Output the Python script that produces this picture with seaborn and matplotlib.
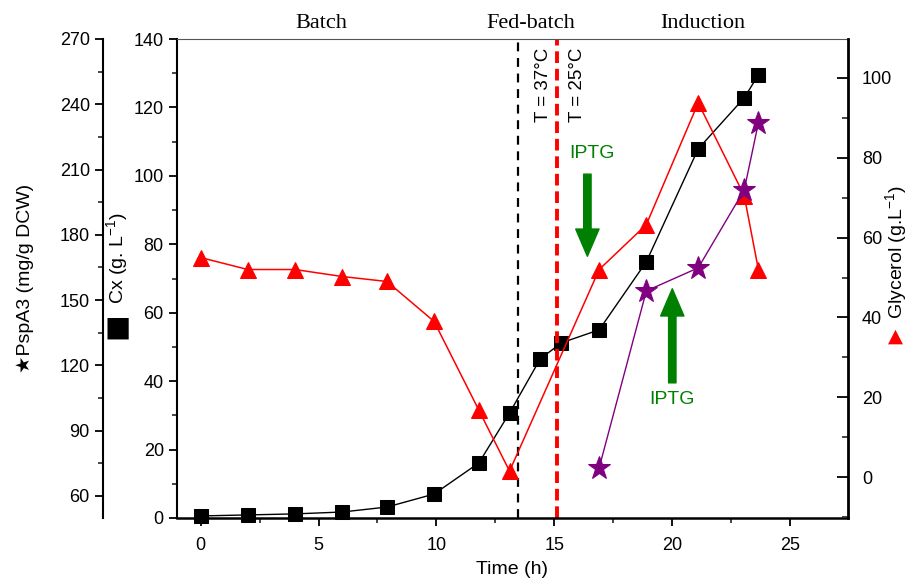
import numpy as np
import matplotlib
matplotlib.use("Agg")
import matplotlib.pyplot as plt
import matplotlib.transforms as mtransforms
from matplotlib.ticker import MultipleLocator
import seaborn as sns

# Biomass (Cx)
time_cx = [0, 2, 4, 6, 7.9, 9.9, 11.8, 13.1, 14.4, 15.3, 16.9, 18.9, 21.1, 23.05, 23.65]
cx = [0.6, 0.9, 1.2, 1.75, 3.2, 7.0, 16.1, 30.7, 46.5, 51.2, 55.0, 74.9, 107.9, 122.8, 129.5]

# Glycerol
time_gly = [0, 2, 4, 6, 7.9, 9.9, 11.8, 13.1, 16.9, 18.9, 21.1, 23.05, 23.65]
glycerol = [55.0, 52.0, 52.0, 50.25, 49.0, 39.0, 16.75, 1.5, 52.0, 63.25, 93.75, 70.5, 52.0]

# PspA3
time_psp = [16.9, 18.9, 21.1, 23.05, 23.65]
pspa3 = [72.9, 154.2, 164.8, 200.6, 231.4]

phases = ["Batch", "Fed-batch", "Induction"]
phase_x = [5.1, 14.0, 21.3]

sns.set_theme(style="ticks")
plt.rcParams["font.family"] = ["Liberation Sans", "DejaVu Sans"]
plt.rcParams["mathtext.fontset"] = "custom"
plt.rcParams["mathtext.rm"] = "Liberation Sans"
plt.rcParams["text.color"] = "black"
plt.rcParams["axes.labelcolor"] = "black"

fig = plt.figure(figsize=(9.18, 5.85), dpi=100)
ax = fig.add_axes([177 / 918, 1 - 518 / 585, 671 / 918, 479 / 585])
ax_g = ax.twinx()
ax_p = ax.twinx()

sns.lineplot(x=time_cx, y=cx, ax=ax, color="black", lw=1, marker="s",
             markersize=10, mec="black", clip_on=False)
sns.lineplot(x=time_gly, y=glycerol, ax=ax_g, color="red", lw=1.1, marker="^",
             markersize=11, mec="red", clip_on=False)
sns.lineplot(x=time_psp, y=pspa3, ax=ax_p, color="#800080", lw=1, marker="*",
             markersize=17, mec="#800080", clip_on=False)

ax.set_xlim(-1, 27.45)
ax.set_ylim(0, 140)
ax_g.set_ylim(-10.25, 109.75)
ax_p.set_ylim(49.8, 270)

# spines
for a in (ax, ax_g, ax_p):
    for s in a.spines.values():
        s.set_visible(False)
for s in ("left", "bottom", "top"):
    ax.spines[s].set_visible(True)
    ax.spines[s].set_color("black")
ax.spines["top"].set_linewidth(0.8)
ax.spines["top"].set_color("#555555")
ax.spines["left"].set_linewidth(1.5)
ax.spines["bottom"].set_linewidth(1.8)
ax_g.spines["right"].set_visible(True)
ax_g.spines["right"].set_linewidth(2)
ax_g.spines["right"].set_color("black")
ax_p.spines["left"].set_visible(True)
ax_p.spines["left"].set_linewidth(1.5)
ax_p.spines["left"].set_color("black")
ax_p.spines["left"].set_position(("axes", (103 - 177) / 671))
ax_p.yaxis.set_ticks_position("left")
ax_p.yaxis.set_label_position("left")

ax.xaxis.set_major_locator(MultipleLocator(5))
ax.xaxis.set_minor_locator(MultipleLocator(2.5))
ax.yaxis.set_major_locator(MultipleLocator(20))
ax.yaxis.set_minor_locator(MultipleLocator(10))
ax_g.set_yticks([0, 20, 40, 60, 80, 100])
ax_g.yaxis.set_minor_locator(MultipleLocator(10))
ax_p.set_yticks(np.arange(60, 271, 30))
ax_p.yaxis.set_minor_locator(MultipleLocator(15))

ax.tick_params(axis="both", which="major", direction="out", length=6, width=1.3,
               labelsize=13, colors="black")
ax.tick_params(axis="both", which="minor", direction="out", length=3.5, width=1.2)
ax.tick_params(axis="x", top=False, which="both")
ax.tick_params(axis="x", pad=8)
ax_p.tick_params(axis="y", which="major", direction="out", length=6, width=1.3,
                 labelsize=13, colors="black")
ax_p.tick_params(axis="y", which="minor", direction="out", length=3.5, width=1.2)
ax_g.tick_params(axis="y", which="major", direction="in", length=8, width=1.3,
                 labelsize=13, colors="black", pad=10)
ax_g.tick_params(axis="y", which="minor", direction="in", length=4, width=1.2)

ax.set_xlabel("Time (h)", fontsize=14, labelpad=5, color="black")
ax.set_ylabel("")
ax_g.set_ylabel("")
ax_p.set_ylabel("")

# axis titles with marker symbols
fig.text(118 / 918, 1 - 258 / 585, "Cx (g. L$^{-1}$)", rotation=90,
         ha="center", va="center", fontsize=14, color="black")
fig.text(118 / 918, 1 - 328 / 585, "\u25a0", ha="center", va="center",
         fontsize=20, family="DejaVu Sans", color="black")
fig.text(25 / 918, 1 - 278 / 585, "\u2605PspA3 (mg/g DCW)", rotation=90,
         ha="center", va="center", fontsize=14, color="black")
fig.text(897 / 918, 1 - 252 / 585, "Glycerol (g.L$^{-1}$)", rotation=90,
         ha="center", va="center", fontsize=14, color="black")
fig.text(895 / 918, 1 - 336 / 585, "\u25b2", color="red",
         ha="center", va="center", fontsize=14, family="DejaVu Sans")

# phase boundaries
ax.axvline(13.47, color="black", lw=1.6, ls=(0, (4, 3)))
ax.axvline(15.1, color="red", lw=2.8, ls=(0, (3, 1.5)))

ax.text(14.53, 126.5, "T = 37\u00b0C", rotation=90, ha="center", va="center",
        fontsize=13.5, color="black")
ax.text(16.0, 126.5, "T = 25\u00b0C", rotation=90, ha="center", va="center",
        fontsize=13.5, color="black")

# IPTG arrows
arrow_style = "simple,head_width=1.2,head_length=1.4,tail_width=0.38"
ax.text(16.6, 106.5, "IPTG", color="green", ha="center", va="center", fontsize=14)
ax.annotate("", xy=(16.4, 76.5), xytext=(16.4, 100.5),
            arrowprops=dict(arrowstyle=arrow_style, color="green",
                            mutation_scale=14, shrinkA=0, shrinkB=0))
ax.text(20.0, 34.5, "IPTG", color="green", ha="center", va="center", fontsize=14)
ax.annotate("", xy=(20.0, 67.0), xytext=(20.0, 39.5),
            arrowprops=dict(arrowstyle=arrow_style, color="green",
                            mutation_scale=14, shrinkA=0, shrinkB=0))

# phase labels
trans = mtransforms.blended_transform_factory(ax.transData, ax.transAxes)
for name, px in zip(phases, phase_x):
    ax.text(px, 1.032, name, transform=trans, ha="center", va="center",
            fontsize=16, family="Liberation Serif", color="black")

fig.savefig("out.png", dpi=100)
